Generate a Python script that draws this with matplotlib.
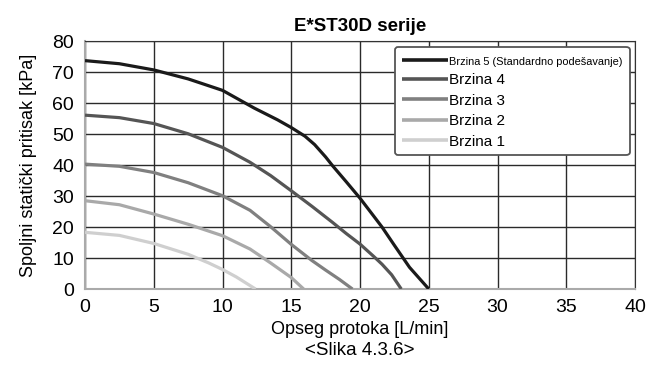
import matplotlib.pyplot as plt

plt.rcParams['font.family'] = ['Liberation Sans', 'DejaVu Sans']

# flow [L/min] vs external static pressure [kPa] for each fan speed
x5 = [0, 2.5, 5, 7.5, 10, 12.3, 14, 15, 16, 16.7, 17.5, 18, 19, 20, 21, 21.6,
      22.5, 23.6, 25]
y5 = [73.7, 72.7, 70.7, 67.8, 64.1, 58.4, 54.6, 52.1, 49.3, 46.6, 42.6, 39.8,
      34.6, 29.3, 23.5, 20.0, 14.1, 7.0, 0]
x4 = [0, 2.5, 5, 7.5, 10, 12, 13.5, 15, 16.5, 18, 19, 20, 21, 21.6, 22.3, 23]
y4 = [56.1, 55.3, 53.4, 50.1, 45.7, 40.9, 36.6, 31.7, 26.7, 21.5, 17.9, 14.5,
      10.5, 8.0, 4.6, 0]
x3 = [0, 2.5, 5, 7.5, 10, 12, 13.5, 15, 16.5, 17.5, 18.5, 19.45]
y3 = [40.3, 39.6, 37.6, 34.3, 30.1, 25.4, 20.1, 14.4, 9.2, 6.1, 3.1, 0]
x2 = [0, 2.5, 5, 7.5, 10, 12, 13.5, 15, 15.9]
y2 = [28.5, 27.2, 24.2, 20.9, 17.2, 12.9, 8.4, 3.7, 0]
x1 = [0, 2.5, 5, 7.5, 9, 10, 11, 12.4]
y1 = [18.3, 17.3, 14.7, 11.2, 8.4, 6.3, 3.9, 0]

labels = ['Brzina 5 (Standardno podešavanje)', 'Brzina 4', 'Brzina 3',
          'Brzina 2', 'Brzina 1']
colors = ['#1a1a1a', '#555555', '#808080', '#a9a9a9', '#cfcfcf']

fig = plt.figure(figsize=(6.56, 3.67), dpi=100)
ax = fig.add_axes([0.1296, 0.2125, 0.8384, 0.6755])

series = [(x5, y5), (x4, y4), (x3, y3), (x2, y2), (x1, y1)]
for (xs, ys), lab, c in zip(series, labels, colors):
    ax.plot(xs, ys, color=c, lw=2.3, label=lab, zorder=3,
            solid_capstyle='butt', solid_joinstyle='round')

ax.set_xlim(0, 40)
ax.set_ylim(0, 80)
ax.set_xticks(range(0, 41, 5))
ax.set_yticks(range(0, 81, 10))
ax.grid(True, color='#2a2a2a', lw=1.0, zorder=1)
ax.tick_params(length=0, labelsize=14)
ax.tick_params(axis='x', pad=7)
ax.tick_params(axis='y', pad=8)
for s in ['top', 'right']:
    ax.spines[s].set_color('#333333')
for s in ['left', 'bottom']:
    ax.spines[s].set_color('#aaaaaa')
    ax.spines[s].set_linewidth(1.5)

ax.set_title('E*ST30D serije', fontsize=13.5, fontweight='bold', pad=7)
ax.set_ylabel('Spoljni statički pritisak [kPa]', fontsize=13, labelpad=11)
ax.set_xlabel('Opseg protoka [L/min]', fontsize=13, labelpad=4)
fig.text(0.549, 0.045, '<Slika 4.3.6>', ha='center', va='center',
         fontsize=13.5)

leg = ax.legend(loc='upper right', bbox_to_anchor=(0.99, 0.975),
                fontsize=11, handlelength=3.0, handletextpad=0.1,
                labelspacing=0.42, borderpad=0.45, frameon=True,
                fancybox=True, framealpha=1, borderaxespad=0)
leg.get_frame().set_edgecolor('#555555')
leg.get_frame().set_linewidth(1.3)
leg.get_texts()[0].set_fontsize(7.9)
for line in leg.get_lines():
    line.set_linewidth(2.6)

fig.savefig('out.png', dpi=100)
